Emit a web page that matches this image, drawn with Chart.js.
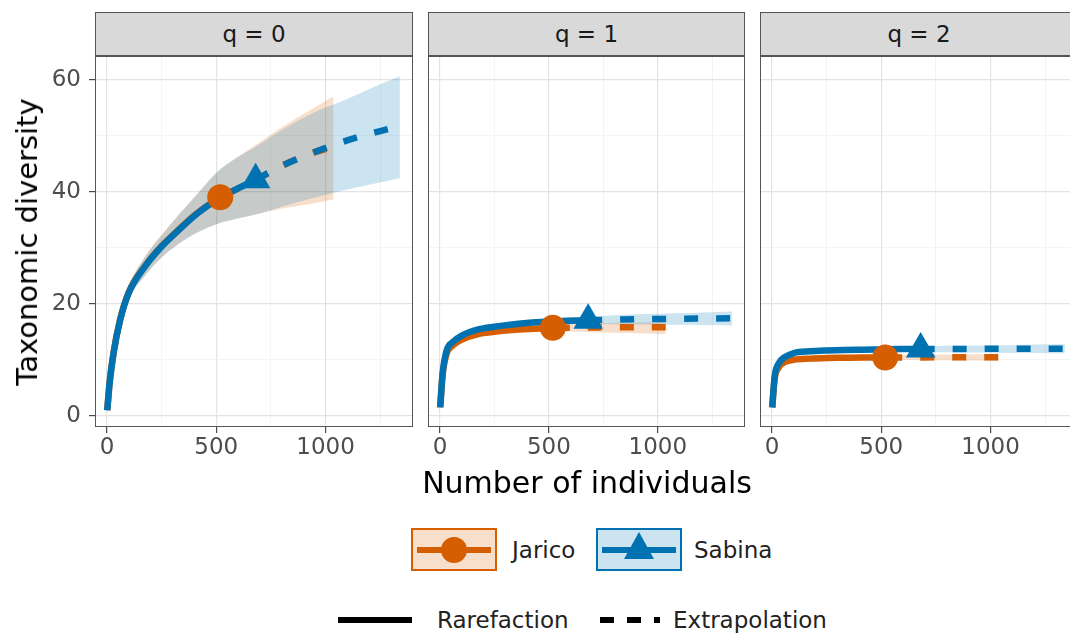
<!DOCTYPE html>
<html>
<head>
<meta charset="utf-8">
<script src="https://cdn.jsdelivr.net/npm/chart.js@4.4.1/dist/chart.umd.min.js"></script>
<style>
  body { margin: 0; background: #fff; font-family: "DejaVu Sans", sans-serif; }
  #wrap { position: relative; width: 1070px; height: 634px; overflow: hidden; }
  canvas { position: absolute; top: 46px; }
  .strip { position: absolute; top: 12px; height: 44px; background: #d9d9d9; border: 1px solid #555;
           box-sizing: border-box; font-size: 23px; color: #1a1a1a; text-align: center; line-height: 42px; }
  .title { position: absolute; font-size: 29px; color: #000; white-space: nowrap; transform: translate(-50%, -50%); }
  .key { position: absolute; width: 86px; height: 43px; border: 2px solid; box-sizing: border-box; }
  .kline { position: absolute; left: 4px; right: 4px; top: 50%; height: 6px; margin-top: -3px; }
  .ktext { position: absolute; font-size: 23px; line-height: 28px; color: #222; white-space: nowrap; }
</style>
</head>
<body>
<div id="wrap">
  <div class="strip" style="left:95px;width:318px">q = 0</div>
  <div class="strip" style="left:428px;width:317px">q = 1</div>
  <div class="strip" style="left:760px;width:318px">q = 2</div>
  <canvas id="c0" width="418" height="421" style="left:0"></canvas>
  <canvas id="c1" width="337" height="421" style="left:418px"></canvas>
  <canvas id="c2" width="338" height="421" style="left:750px"></canvas>

  <div class="title" style="left:27px;top:242px;transform:translate(-50%,-50%) rotate(-90deg)">Taxonomic diversity</div>
  <div class="title" style="left:587px;top:482px;font-size:30px">Number of individuals</div>

  <div class="key" style="left:411px;top:528px;border-color:#D55E00;background:rgba(213,94,0,0.2)">
    <div class="kline" style="background:#D55E00"></div>
    <div style="position:absolute;left:28px;top:7px;width:26px;height:26px;border-radius:50%;background:#D55E00"></div>
  </div>
  <div class="ktext" style="left:512px;top:536px">Jarico</div>
  <div class="key" style="left:596px;top:528px;border-color:#0072B2;background:rgba(0,114,178,0.2)">
    <div class="kline" style="background:#0072B2"></div>
    <div style="position:absolute;left:26px;top:2px;width:30px;height:27px;background:#0072B2;clip-path:polygon(50% 0,100% 100%,0 100%)"></div>
  </div>
  <div class="ktext" style="left:694px;top:536px">Sabina</div>

  <div style="position:absolute;left:338px;top:617px;width:74px;height:6px;background:#000"></div>
  <div class="ktext" style="left:437px;top:606px">Rarefaction</div>
  <div style="position:absolute;left:600px;top:617px;width:60px;height:6px;background:repeating-linear-gradient(90deg,#000 0 14px,transparent 14px 27px)"></div>
  <div class="ktext" style="left:673px;top:606px">Extrapolation</div>
</div>
<script>
const panelLabels = ["q = 0", "q = 1", "q = 2"];
const xMajor = [0, 500, 1000];
const xMinor = [250, 750, 1250];
const yMajor = [0, 20, 40, 60];
const yMinor = [10, 30, 50];

// sample sizes
const jaricoRareX = [1, 12, 30, 60, 100, 175, 250, 330, 410, 518];
const jaricoExtX = [518, 680, 800, 940, 1036];
const sabinaRareX = [1, 12, 30, 60, 100, 175, 250, 330, 410, 500, 590, 680];
const sabinaExtX = [680, 800, 940, 1080, 1210, 1340];

// q = 0
const jaricoRareQ0 = [1, 6.0, 11.3, 17.2, 22.1, 26.8, 30.3, 33.3, 36.1, 39.0];
const jaricoExtQ0 = [39.0, 42.1, 44.6, 46.9, 48.0];
const jaricoLoQ0 = [1, 5.7, 10.6, 16.1, 20.9, 25.1, 28.3, 30.8, 32.7, 34.4, 35.9, 37.0, 37.9, 38.6];
const jaricoHiQ0 = [1, 6.3, 12.0, 18.3, 23.3, 28.5, 32.3, 36.0, 39.5, 43.9, 48.3, 51.5, 54.8, 57.0];
const sabinaRareQ0 = [1, 5.9, 11.2, 17.1, 22.0, 26.7, 30.2, 33.2, 36.0, 38.5, 40.4, 42.1];
const sabinaExtQ0 = [42.1, 44.6, 46.9, 48.9, 50.4, 51.7];
const sabinaLoQ0 = [1, 5.6, 10.5, 16.0, 20.8, 25.0, 28.2, 30.7, 32.6, 34.2, 35.1, 35.9, 37.3, 38.8, 40.2, 41.3, 42.4];
const sabinaHiQ0 = [1, 6.2, 11.9, 18.2, 23.2, 28.4, 32.2, 35.9, 39.4, 43.4, 45.9, 48.0, 51.0, 54.0, 56.2, 58.5, 60.6];

// q = 1
const jaricoRareQ1 = [1.5, 7.3, 11.0, 12.6, 13.6, 14.6, 15.0, 15.3, 15.5, 15.7];
const jaricoExtQ1 = [15.7, 15.75, 15.8, 15.8, 15.8];
const jaricoLoQ1 = [1.5, 7.0, 10.6, 12.2, 13.2, 14.2, 14.6, 14.85, 15.0, 15.1, 14.95, 14.8, 14.7, 14.6];
const jaricoHiQ1 = [1.5, 7.6, 11.4, 13.0, 14.0, 15.0, 15.4, 15.75, 16.0, 16.3, 16.45, 16.6, 16.7, 16.8];
const sabinaRareQ1 = [1.5, 7.5, 11.6, 13.2, 14.3, 15.4, 15.9, 16.3, 16.6, 16.8, 16.95, 17.05];
const sabinaExtQ1 = [17.05, 17.15, 17.25, 17.3, 17.35, 17.4];
const sabinaLoQ1 = [1.5, 7.2, 11.2, 12.8, 13.9, 15.0, 15.5, 15.9, 16.1, 16.3, 16.35, 16.4, 16.35, 16.3, 16.25, 16.2, 16.1];
const sabinaHiQ1 = [1.5, 7.8, 12.0, 13.6, 14.7, 15.8, 16.3, 16.7, 17.1, 17.3, 17.55, 17.7, 17.95, 18.15, 18.3, 18.45, 18.6];

// q = 2
const jaricoRareQ2 = [1.5, 6.6, 8.6, 9.6, 10.0, 10.2, 10.3, 10.35, 10.4, 10.4];
const jaricoExtQ2 = [10.4, 10.42, 10.43, 10.44, 10.45];
const jaricoLoQ2 = [1.5, 6.4, 8.3, 9.3, 9.7, 9.9, 10.0, 10.0, 10.0, 10.0, 9.95, 9.9, 9.85, 9.8];
const jaricoHiQ2 = [1.5, 6.8, 8.9, 9.9, 10.3, 10.5, 10.6, 10.7, 10.8, 10.8, 10.9, 10.95, 11.0, 11.05];
const sabinaRareQ2 = [1.5, 7.0, 9.3, 10.5, 11.2, 11.5, 11.65, 11.75, 11.8, 11.85, 11.9, 11.9];
const sabinaExtQ2 = [11.9, 11.92, 11.94, 11.95, 11.96, 11.97];
const sabinaLoQ2 = [1.5, 6.8, 9.0, 10.2, 10.9, 11.2, 11.35, 11.4, 11.45, 11.45, 11.45, 11.4, 11.35, 11.3, 11.25, 11.2, 11.15];
const sabinaHiQ2 = [1.5, 7.2, 9.6, 10.8, 11.5, 11.8, 11.95, 12.1, 12.15, 12.25, 12.35, 12.4, 12.5, 12.55, 12.6, 12.7, 12.75];

const ORANGE = "#D55E00", BLUE = "#0072B2";
const ORANGE_FILL = "rgba(213,94,0,0.2)", BLUE_FILL = "rgba(0,114,178,0.2)";

const panels = [
  { j: [jaricoRareQ0, jaricoExtQ0, jaricoLoQ0, jaricoHiQ0], s: [sabinaRareQ0, sabinaExtQ0, sabinaLoQ0, sabinaHiQ0], dashOff: 25 },
  { j: [jaricoRareQ1, jaricoExtQ1, jaricoLoQ1, jaricoHiQ1], s: [sabinaRareQ1, sabinaExtQ1, sabinaLoQ1, sabinaHiQ1], dashOff: 29 },
  { j: [jaricoRareQ2, jaricoExtQ2, jaricoLoQ2, jaricoHiQ2], s: [sabinaRareQ2, sabinaExtQ2, sabinaLoQ2, sabinaHiQ2], dashOff: 29 }
];

const jaricoBandX = jaricoRareX.concat(jaricoExtX.slice(1));
const sabinaBandX = sabinaRareX.concat(sabinaExtX.slice(1));

function pts(xs, ys) {
  return xs.map((x, i) => ({ x: x, y: ys[i] }));
}

Chart.defaults.font.family = "DejaVu Sans";

const panelBorder = {
  id: "panelBorder",
  afterDraw(chart) {
    const a = chart.chartArea, ctx = chart.ctx;
    ctx.save();
    ctx.strokeStyle = "#555";
    ctx.lineWidth = 1;
    ctx.strokeRect(a.left + 0.5, a.top + 0.5, a.right - a.left - 1, a.bottom - a.top - 1);
    ctx.restore();
  }
};

const band = (data, fill, color) => ({
  data: data, fill: fill, backgroundColor: color, borderWidth: 0, borderColor: "rgba(0,0,0,0)",
  pointRadius: 0, order: 5
});
const curve = (data, color, dash, off, order) => ({
  data: data, fill: false, borderColor: color, borderWidth: 6.5, borderDash: dash, borderDashOffset: off,
  borderCapStyle: "butt", pointRadius: 0, order: order
});
const marker = (pt, color, style, r) => ({
  data: [pt], showLine: false, pointStyle: style, pointRadius: r,
  pointBackgroundColor: color, pointBorderWidth: 0, order: style === "circle" ? 2 : 1
});

function makeChart(id, k, showY) {
  const p = panels[k];
  const jr = p.j, sr = p.s;
  const gridColor = (minor) => (c) => (c.tick && minor.includes(c.tick.value)) ? "#efefef" : "#e3e3e3";
  const gridWidth = (minor) => (c) => (c.tick && minor.includes(c.tick.value)) ? 0.7 : 1.2;
  const tickColor = (minor) => (c) => (c.tick && minor.includes(c.tick.value)) ? "rgba(0,0,0,0)" : "#4d4d4d";
  const allX = xMajor.concat(xMinor).sort((a, b) => a - b);
  const allY = yMajor.concat(yMinor).sort((a, b) => a - b);

  new Chart(document.getElementById(id), {
    type: "line",
    data: {
      datasets: [
        // Sabina band first so it paints over the Jarico band
        band(pts(sabinaBandX, sr[3]), 1, BLUE_FILL),
        band(pts(sabinaBandX, sr[2]), false, BLUE_FILL),
        band(pts(jaricoBandX, jr[3]), 3, ORANGE_FILL),
        band(pts(jaricoBandX, jr[2]), false, ORANGE_FILL),
        curve(pts(jaricoRareX, jr[0]), ORANGE, [], 0, 4),
        curve(pts(jaricoExtX, jr[1]), ORANGE, [14, 18], p.dashOff, 4),
        curve(pts(sabinaRareX, sr[0]), BLUE, [], 0, 3),
        curve(pts(sabinaExtX, sr[1]), BLUE, [14, 18], 0, 3),
        marker({ x: jaricoRareX[jaricoRareX.length - 1], y: jr[0][jr[0].length - 1] }, ORANGE, "circle", 13),
        marker({ x: sabinaRareX[sabinaRareX.length - 1], y: sr[0][sr[0].length - 1] }, BLUE, "triangle", 17)
      ]
    },
    options: {
      responsive: false,
      animation: false,
      events: [],
      elements: { line: { cubicInterpolationMode: "monotone", tension: 0.3 } },
      layout: { autoPadding: false, padding: showY ? { left: 0, right: 5, top: 10, bottom: 0 } : { left: 10, right: 10, top: 10, bottom: 0 } },
      plugins: { legend: { display: false }, tooltip: { enabled: false }, filler: { drawTime: "beforeDatasetsDraw" } },
      scales: {
        x: {
          type: "linear", min: -55, max: 1400,
          afterBuildTicks: (s) => { s.ticks = allX.map(v => ({ value: v })); },
          afterFit: (s) => { s.height = 40; s.paddingLeft = 0; s.paddingRight = 0; },
          ticks: {
            autoSkip: false, maxRotation: 0, padding: 1, color: "#4d4d4d", font: { size: 23 },
            callback: (v) => xMajor.includes(v) ? String(v) : ""
          },
          grid: { color: gridColor(xMinor), lineWidth: gridWidth(xMinor), tickColor: tickColor(xMinor), tickLength: 6, tickWidth: 1.2 },
          border: { display: false }
        },
        y: {
          type: "linear", min: -2, max: 64.2,
          afterBuildTicks: (s) => { s.ticks = allY.map(v => ({ value: v })); },
          afterFit: (s) => { s.width = showY ? 95 : 0; s.paddingTop = 0; s.paddingBottom = 0; },
          ticks: {
            display: showY, autoSkip: false, padding: 8, color: "#4d4d4d", font: { size: 23 },
            callback: (v) => yMajor.includes(v) ? String(v) : ""
          },
          grid: { color: gridColor(yMinor), lineWidth: gridWidth(yMinor), tickColor: tickColor(yMinor), drawTicks: showY, tickLength: 6, tickWidth: 1.2 },
          border: { display: false }
        }
      }
    },
    plugins: [panelBorder]
  });
}

makeChart("c0", 0, true);
makeChart("c1", 1, false);
makeChart("c2", 2, false);
</script>
</body>
</html>
